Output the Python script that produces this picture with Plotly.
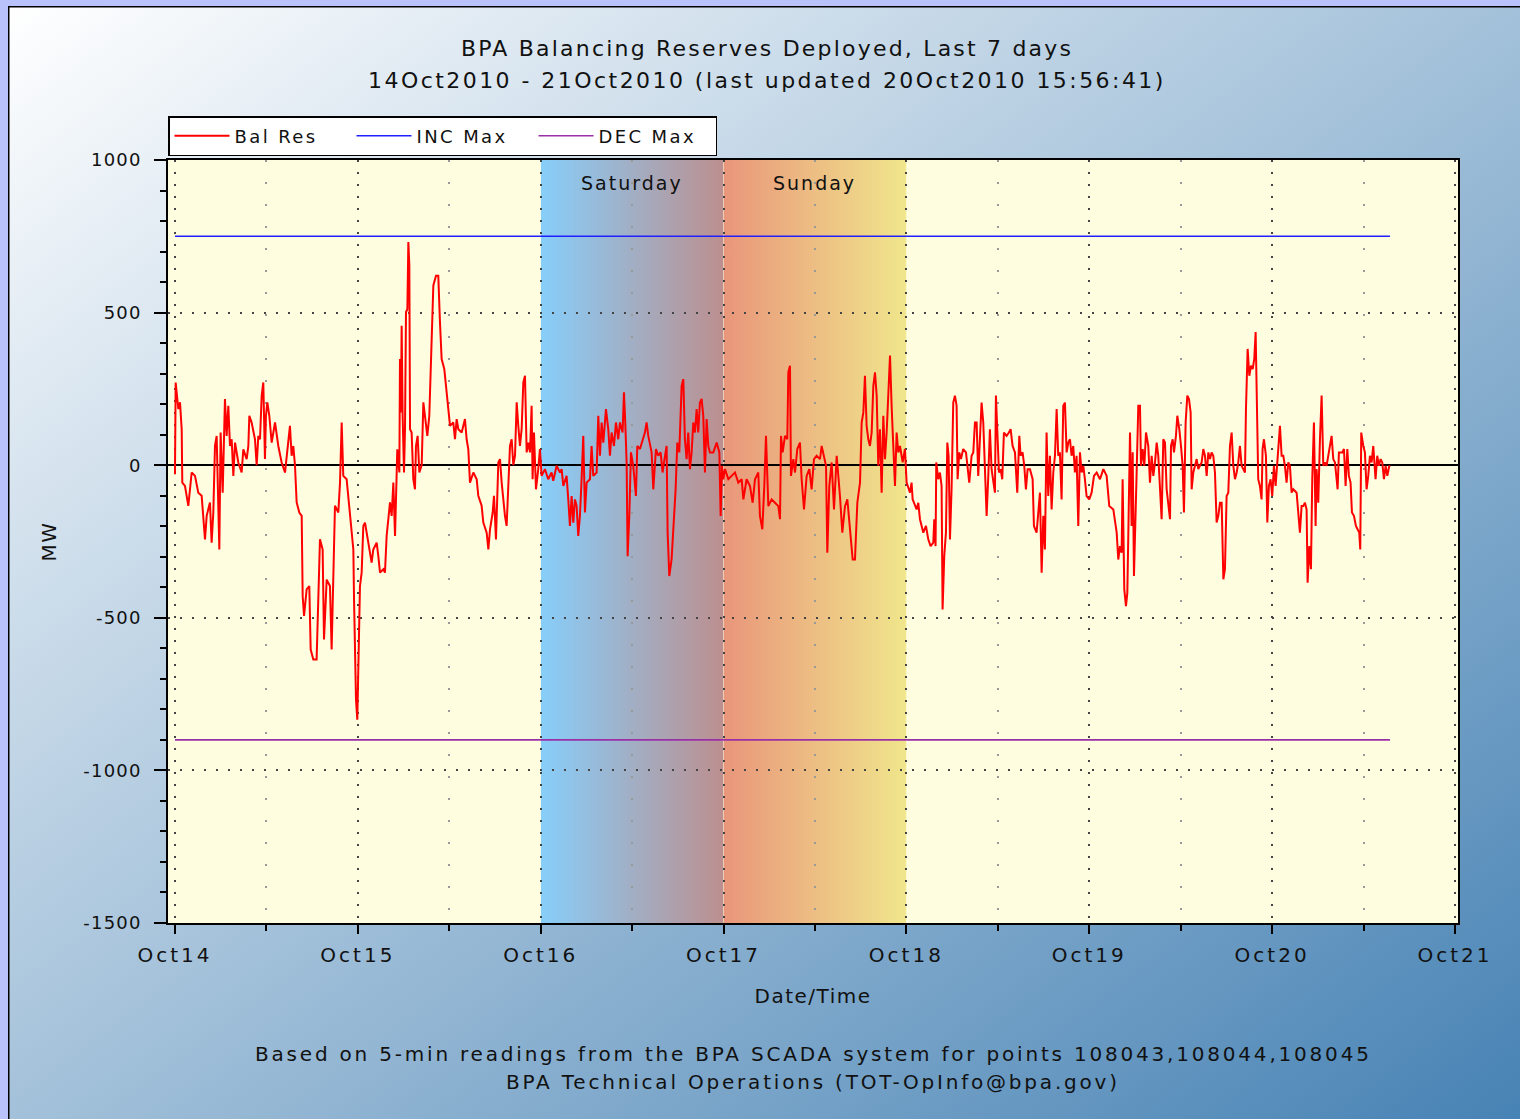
import base64
import pandas as pd
import plotly.graph_objects as go

# ---------------- data (hours since 14Oct2010 00:00, MW) ----------------
t_seg1 = [0.00, 0.05, 0.09, 0.44, 0.66, 0.88, 0.96, 1.31, 1.75, 2.19, 2.63, 3.06, 3.50, 3.94, 4.16, 4.59, 4.81, 5.03, 5.25, 5.47,
          5.82, 5.99, 6.26, 6.56, 6.78, 7.00, 7.22, 7.44, 7.66, 7.88, 8.31, 8.75, 8.97, 9.41, 9.63, 9.76, 10.06, 10.50, 10.72, 10.94,
          11.16, 11.38, 11.59, 11.81, 11.94, 12.12, 12.38, 12.69, 13.13, 13.56, 14.00, 14.44, 14.88, 15.09, 15.31, 15.53, 15.75, 15.97, 16.32, 16.63,
          16.76, 16.94, 17.28, 17.63, 17.81, 18.16, 18.59, 18.81, 19.03, 19.38, 19.56, 19.91, 20.34, 20.56, 20.78, 21.00, 21.44, 21.66, 21.88, 22.09,
          22.53]
mw_seg1 = [-30, 217, 271, 184, 206, 118, -57, -68, -133, -24, -35, -90, -100, -243, -166, -122, -254, -155, 63, 96,
           -276, 107, -90, 217, 96, 195, 63, 85, -35, 74, 9, -24, 52, 20, 63, 162, 140, 85, 0, 96,
           85, 228, 271, 20, 162, 206, 162, 74, 140, 63, 9, -24, 96, 129, 31, 63, 0, -122, -155, -166,
           -429, -494, -407, -396, -604, -637, -637, -385, -243, -276, -571, -375, -396, -604, -309, -133, -155, -57, 140, -35,
           -46]

t_seg2 = [22.97, 23.19, 23.41, 23.50, 23.76, 23.93, 24.06, 24.28, 24.50, 24.72, 24.94, 25.16, 25.38, 25.81, 26.03, 26.47, 26.69, 26.91, 27.35, 27.56,
          27.78, 28.00, 28.22, 28.44, 28.66, 28.88, 29.01, 29.18, 29.45, 29.53, 29.66, 29.75, 29.88, 30.06, 30.19, 30.32, 30.50, 30.63, 30.76, 30.85,
          31.06, 31.28, 31.50, 31.63, 31.85, 32.07, 32.38, 32.60, 32.81, 33.12, 33.38, 33.69, 33.91, 34.26, 34.56, 34.78, 35.00, 35.35, 35.66, 35.88,
          36.10, 36.53, 36.75, 36.97, 37.19, 37.63, 38.06, 38.28, 38.50, 38.72, 39.16, 39.60, 39.81, 40.25, 40.47, 40.91, 41.13, 41.35, 41.70, 41.87,
          42.13, 42.44, 42.66, 42.88, 43.10, 43.31, 43.53, 43.75, 43.97, 44.19, 44.41, 44.63, 44.85, 45.06, 45.28, 45.50, 45.72, 45.94, 46.16, 46.38,
          46.60]
mw_seg2 = [-155, -221, -276, -440, -768, -834, -615, -396, -352, -199, -188, -221, -243, -319, -276, -254, -298, -352, -341, -352,
           -232, -166, -122, -166, -57, -232, -79, 52, -24, 348, 173, 457, 162, -24, 118, 501, 512, 731, 654, 118,
           107, -46, -79, 63, 96, -24, 0, 206, 162, 96, 162, 435, 589, 621, 621, 468, 348, 315, 239, 184,
           129, 140, 85, 151, 118, 107, 151, 85, 52, -57, -24, -46, -100, -133, -188, -221, -276, -210, -155, -100,
           -243, 9, 20, -57, -122, -166, -199, -90, 63, 85, 0, 31, 206, 129, 63, 118, 271, 293, 42, 74,
           42]

t_seg3 = [46.81, 46.94, 47.12, 47.25, 47.38, 47.68, 47.90, 48.12, 48.56, 48.99, 49.43, 49.65, 50.09, 50.53, 50.75, 50.97, 51.40, 51.62, 51.84, 52.06,
          52.28, 52.50, 52.72, 52.93, 53.15, 53.37, 53.59, 53.81, 54.03, 54.47, 54.68, 54.90, 55.34, 55.56, 55.78, 56.00, 56.22, 56.57, 56.87, 57.09,
          57.31, 57.62, 57.88, 58.18, 58.40, 58.75, 58.93, 59.10, 59.28, 59.41, 59.63, 59.85, 60.15, 60.50, 60.68, 61.03, 61.38, 61.68, 61.90, 62.12,
          62.56, 62.78, 63.13, 63.43, 63.74, 64.00, 64.18, 64.53, 64.66, 64.88, 65.18, 65.49, 65.71, 65.93, 66.19, 66.50, 66.72, 66.93, 67.15, 67.37,
          67.59, 67.81, 68.03, 68.25, 68.47, 68.68, 68.90, 69.12, 69.34, 69.56, 69.78, 70.00, 70.22]
mw_seg3 = [195, -46, 107, -24, -79, -13, 53, -35, -13, -46, -24, -51, -2, -24, -13, -68, -35, -112, -199, -101,
           -188, -112, -134, -232, -166, -46, 96, -155, -57, -46, 63, -35, -24, 162, 31, 140, 74, 184, 118, 31,
           107, 63, 140, 85, 140, 107, 239, 140, 9, -298, -166, 42, -2, -101, 63, 53, 85, 107, 140, 96,
           42, -79, 53, 31, 42, -24, 9, 63, -221, -363, -309, -177, -79, 74, 42, 260, 282, 85, 20, 107,
           -13, 42, 140, 107, 184, 107, 205, 217, 162, -24, 151, 63, 42]

t_seg4 = [70.66, 71.10, 71.45, 71.62, 71.80, 71.97, 72.19, 72.63, 73.06, 73.50, 73.94, 74.38, 74.60, 75.03, 75.47, 75.82, 76.13, 76.56, 76.78, 77.09,
          77.35, 77.57, 77.88, 78.31, 78.75, 79.19, 79.41, 79.54, 79.76, 80.06, 80.37, 80.50, 80.72, 80.85, 81.16, 81.38, 81.68, 82.03, 82.25, 82.56,
          82.91, 83.26, 83.56, 83.87, 84.22, 84.66, 84.88, 85.18, 85.45, 85.62, 85.88, 86.19, 86.50, 86.85, 87.06, 87.28, 87.59, 87.94, 88.25, 88.60,
          88.95, 89.25, 89.56, 89.91, 90.13, 90.35, 90.56, 90.78, 91.00, 91.22, 91.44, 91.66, 91.88, 92.10, 92.31, 92.53, 92.75, 92.97, 93.19, 93.41,
          93.63, 93.85, 94.06, 94.28, 94.50, 94.72, 94.94, 95.16, 95.51, 95.81, 96.03]
mw_seg4 = [42, 74, 42, -166, -2, -46, -13, -46, -35, -24, -57, -46, -112, -46, -68, -123, -46, -24, -166, -210,
           -68, 96, -134, -112, -123, -134, -177, 96, 42, 96, 85, 304, 326, -35, 20, -24, 53, 74, -46, -145,
           -35, -13, -79, 20, 31, 20, 63, 31, -2, -287, -68, 9, -145, 31, -24, -101, -221, -134, -112, -199,
           -309, -309, -123, -57, 140, 173, 293, 129, 85, 63, 107, 260, 304, 228, -2, 118, -90, 162, 20, 107,
           239, 359, 195, 63, -68, 107, 42, 63, 9, 53, -57]

t_seg5 = [96.47, 96.68, 96.82, 97.12, 97.34, 97.56, 97.78, 98.00, 98.22, 98.57, 98.87, 99.18, 99.53, 99.66, 99.83, 99.92, 100.18, 100.40, 100.62, 100.75,
          100.97, 101.19, 101.37, 101.54, 101.72, 101.93, 102.15, 102.37, 102.59, 102.72, 102.94, 103.16, 103.46, 103.82, 104.03, 104.25, 104.56, 104.78, 105.00, 105.22,
          105.43, 105.65, 105.87, 106.09, 106.31, 106.53, 106.75, 106.96, 107.18, 107.40, 107.62, 107.75, 107.93, 108.15, 108.37, 108.58, 108.80, 109.15, 109.46, 109.68,
          109.94, 110.25, 110.55, 110.82, 110.99, 111.25, 111.47, 111.69, 111.91, 112.22, 112.57, 112.74, 113.09, 113.31, 113.53, 113.75, 113.97, 114.18, 114.40, 114.62,
          114.84, 115.06, 115.28, 115.50, 115.72, 115.93, 116.15, 116.37, 116.59, 116.81, 117.03, 117.25, 117.47, 117.68, 117.90, 118.12, 118.34, 118.56, 118.78, 119.00,
          119.22, 119.43, 119.65, 120.00]
mw_seg5 = [-90, -57, -112, -134, -145, -123, -177, -199, -221, -199, -243, -265, -254, -177, -265, 9, -46, -24, -68, -473,
           -298, -221, 74, 31, -243, -79, 205, 228, 195, -46, 42, 20, 53, 42, -2, -57, 31, 42, 140, 140,
           -35, 107, 205, 140, -2, -166, -35, 118, -13, -46, -90, 228, 107, -24, -13, -46, 107, 96, 107, 118,
           63, 42, -90, 96, 31, 42, -2, -79, -13, -13, -46, -199, -221, -166, -90, -352, -166, -276, 107, -101,
           31, -145, -24, 31, 184, 31, 42, -112, 195, 205, 42, 74, 85, 31, 63, -24, 31, -199, 42, -24,
           -2, -46, -101, -112]

t_seg6 = [120.31, 120.62, 120.97, 121.41, 121.85, 122.28, 122.63, 123.16, 123.60, 123.81, 124.03, 124.25, 124.38, 124.60, 124.82, 125.00, 125.13, 125.35, 125.56, 125.70,
          125.87, 126.09, 126.22, 126.44, 126.66, 126.79, 127.01, 127.23, 127.45, 127.75, 127.97, 128.19, 128.41, 128.63, 128.85, 129.06, 129.28, 129.50, 129.72, 129.94,
          130.16, 130.38, 130.60, 130.73, 130.95, 131.12, 131.38, 131.56, 131.82, 132.04, 132.26, 132.43, 132.65, 132.87, 133.09, 133.31, 133.44, 133.66, 133.88, 134.10,
          134.31, 134.53, 134.75, 134.97, 135.19, 135.41, 135.63, 135.85, 136.06, 136.28, 136.50, 136.72, 136.94, 137.16, 137.38, 137.60, 137.81, 138.03, 138.25, 138.47,
          138.69, 138.91, 139.13, 139.35, 139.56, 139.78, 140.00, 140.22, 140.44, 140.57, 140.79, 141.01, 141.23, 141.45, 141.66, 141.84, 141.97]
mw_seg6 = [-90, -35, -24, -46, -13, -35, -134, -145, -221, -309, -265, -287, -46, -407, -462, -418, -232, 107, -199, 42,
           -363, -101, -24, 195, 195, -2, 53, -2, 107, 63, -57, 31, -35, 9, 74, 31, -79, -177, 85, 74,
           -79, -134, -177, 63, 85, 42, 96, 162, 118, 63, -2, -155, 140, 228, 217, 173, -79, -24, -2, 20,
           -13, -2, 9, 53, 31, -35, 42, 20, 42, 31, -24, -188, -166, -123, -123, -374, -341, -101, -90, 63,
           107, -2, -46, -24, 9, 63, -2, -13, -24, 184, 381, 293, 326, 315, 348, 436, 293]

t_seg7 = [142.18, 142.40, 142.62, 142.75, 142.93, 143.19, 143.37, 143.58, 143.80, 144.02, 144.24, 144.46, 144.68, 144.85, 145.03, 145.25, 145.47, 145.68, 145.90, 146.12,
          146.34, 146.56, 146.78, 147.22, 147.65, 147.87, 148.09, 148.31, 148.53, 148.66, 148.88, 149.10, 149.27, 149.49, 149.71, 149.84, 150.06, 150.28, 150.50, 150.72,
          150.93, 151.15, 151.37, 151.59, 151.81, 152.03, 152.25, 152.47, 152.60, 152.77, 152.99, 153.21, 153.43, 153.65, 153.87, 154.08, 154.30, 154.48, 154.74, 155.00,
          155.22, 155.44, 155.57, 155.70, 155.97, 156.18, 156.40, 156.62, 156.84, 157.06, 157.28, 157.58, 157.80, 158.02, 158.24, 158.46, 158.68, 158.90, 159.12, 159.38,
          159.47]
mw_seg7 = [-46, -68, -112, 53, 85, 31, -188, -68, -46, -101, -2, -68, 20, 96, 129, 31, 31, -2, -57, 9,
           -2, -90, -79, -90, -221, -134, -134, -123, -145, -385, -265, -341, -46, 140, -199, -13, -123, 85, 228, -2,
           9, -2, 31, 74, 96, 20, 9, -46, -79, 42, 42, 42, 53, -68, 53, -35, -57, -155, -166, -199,
           -210, -221, -276, 107, 63, 42, -79, -35, 31, 9, 63, -46, 31, -2, 20, 9, -46, -2, -35, -2,
           -5]

inc_max = 750
dec_max = -900

x_tick_labels = ["Oct14", "Oct15", "Oct16", "Oct17", "Oct18", "Oct19", "Oct20", "Oct21"]
y_tick_vals = [-1500, -1000, -500, 0, 500, 1000]
y_tick_labels = ["-1500", "-1000", "-500", "0", "500", "1000"]
weekend_days = ["Saturday", "Sunday"]
title_lines = ["BPA Balancing Reserves Deployed, Last 7 days",
               "14Oct2010 - 21Oct2010 (last updated 20Oct2010 15:56:41)"]
footer_lines = ["Based on 5-min readings from the BPA SCADA system for points 108043,108044,108045",
                "BPA Technical Operations (TOT-OpInfo@bpa.gov)"]

# ---------------- build series ----------------
start = pd.Timestamp("2010-10-14 00:00")
hours = t_seg1 + t_seg2 + t_seg3 + t_seg4 + t_seg5 + t_seg6 + t_seg7
mw = mw_seg1 + mw_seg2 + mw_seg3 + mw_seg4 + mw_seg5 + mw_seg6 + mw_seg7
assert len(hours) == len(mw)
times = [start + pd.Timedelta(hours=h) for h in hours]
line_ends = [times[0], times[-1]]

FONT = "DejaVu Sans"
TXT = "#111111"


def spaced(txt, ls=2.0):
    return f'<span style="letter-spacing:{ls}px">{txt}</span>'


def svg_uri(svg):
    return "data:image/svg+xml;base64," + base64.b64encode(svg.encode()).decode()


W, H = 1520, 1119
ML, MR, MT, MB = 168, 62, 160, 196
PW, PH = W - ML - MR, H - MT - MB

page_svg = f'''<svg xmlns="http://www.w3.org/2000/svg" width="{W}" height="{H}" viewBox="0 0 {W} {H}" preserveAspectRatio="none">
<defs><linearGradient id="g" x1="0" y1="0" x2="1" y2="1">
<stop offset="0" stop-color="#ffffff"/><stop offset="1" stop-color="#4682b4"/></linearGradient></defs>
<rect width="{W}" height="{H}" fill="#b9c2fa"/>
<rect x="8.75" y="6.75" width="{W}" height="{H}" fill="url(#g)" stroke="#000" stroke-width="1.5"/>
</svg>'''


def hgrad(c0, c1):
    return f'''<svg xmlns="http://www.w3.org/2000/svg" width="100" height="100" viewBox="0 0 100 100" preserveAspectRatio="none">
<defs><linearGradient id="h" x1="0" y1="0" x2="1" y2="0">
<stop offset="0" stop-color="{c0}"/><stop offset="1" stop-color="{c1}"/></linearGradient></defs>
<rect width="100" height="100" fill="url(#h)"/></svg>'''


sat_start = pd.Timestamp("2010-10-16")
sun_start = pd.Timestamp("2010-10-17")
day_ms = 86400000

fig = go.Figure()
fig.add_trace(go.Scatter(x=times, y=mw, mode="lines", name=spaced("Bal Res", 2.4),
                         line=dict(color="#ff0000", width=2)))
fig.add_trace(go.Scatter(x=line_ends, y=[inc_max, inc_max], mode="lines", name=spaced("INC Max", 2.4),
                         line=dict(color="#2020ff", width=1.6)))
fig.add_trace(go.Scatter(x=line_ends, y=[dec_max, dec_max], mode="lines", name=spaced("DEC Max", 2.4),
                         line=dict(color="#9a30a8", width=1.6)))

tickvals_x = [start + pd.Timedelta(days=i) for i in range(len(x_tick_labels))]
minor_x = [start + pd.Timedelta(hours=12 + 24 * i) for i in range(7)]

fig.update_layout(
    width=W, height=H,
    margin=dict(l=ML, r=MR, t=MT, b=MB),
    paper_bgcolor="#b9c2fa",
    plot_bgcolor="rgba(0,0,0,0)",
    font=dict(family=FONT, color=TXT, size=19),
    showlegend=True,
    legend=dict(orientation="h", x=0, xanchor="left", y=1 + 44 / PH, yanchor="top",
                bgcolor="#ffffff", bordercolor="#000000", borderwidth=1.5,
                font=dict(family=FONT, size=18, color=TXT),
                entrywidth=112, itemwidth=55),
    xaxis=dict(
        type="date",
        range=[start - pd.Timedelta(minutes=55), start + pd.Timedelta(days=7, minutes=24)],
        tickvals=tickvals_x, ticktext=[spaced(s, 3) for s in x_tick_labels],
        ticks="outside", ticklen=9, tickwidth=1.5, tickcolor="#000",
        ticklabelstandoff=4,
        tickfont=dict(family=FONT, size=20, color=TXT),
        showline=True, linecolor="#000", linewidth=1.5, mirror=True,
        showgrid=True, gridcolor="#444444", gridwidth=1.6, griddash="2px,10px",
        zeroline=False,
        minor=dict(tickvals=minor_x, ticks="outside", ticklen=6, tickwidth=1.5, tickcolor="#000",
                   showgrid=True, gridcolor="#999999", gridwidth=1.6, griddash="2px,20px"),
        title=dict(text=spaced("Date/Time", 1.5), standoff=23, font=dict(family=FONT, size=20, color=TXT)),
    ),
    yaxis=dict(
        range=[-1500, 1000],
        tickvals=y_tick_vals, ticktext=[spaced(s, 1.2) for s in y_tick_labels],
        ticks="outside", ticklen=12, tickwidth=1.5, tickcolor="#000",
        ticklabelstandoff=9,
        tickfont=dict(family=FONT, size=18, color=TXT),
        showline=True, linecolor="#000", linewidth=1.5, mirror=True,
        showgrid=True, gridcolor="#444444", gridwidth=1.6, griddash="2px,10px",
        zeroline=True, zerolinecolor="#000", zerolinewidth=1.6,
        minor=dict(dtick=100, ticks="outside", ticklen=6, tickwidth=1.5, tickcolor="#000", showgrid=False),
        title=dict(text=spaced("MW", 1.5), standoff=21, font=dict(family=FONT, size=20, color=TXT)),
    ),
    images=[
        dict(source=svg_uri(page_svg), xref="paper", yref="paper",
             x=-ML / PW, y=1 + MT / PH, sizex=W / PW, sizey=H / PH,
             xanchor="left", yanchor="top", sizing="stretch", layer="below"),
        dict(source=svg_uri(hgrad("#87cefa", "#bc8f8f")), xref="x", yref="y",
             x=sat_start, y=1000, sizex=day_ms, sizey=2500,
             xanchor="left", yanchor="top", sizing="stretch", layer="below"),
        dict(source=svg_uri(hgrad("#e9967a", "#f0e68c")), xref="x", yref="y",
             x=sun_start, y=1000, sizex=day_ms, sizey=2500,
             xanchor="left", yanchor="top", sizing="stretch", layer="below"),
    ],
    shapes=[
        dict(type="rect", xref="x domain", yref="y domain", x0=0, x1=1, y0=0, y1=1,
             fillcolor="#fffde0", line=dict(width=0), layer="below"),
    ],
)

# title lines (centres at page y 48 and 80)
for lbl, yc, ls in zip(title_lines, [48, 80], [2.2, 2.45]):
    fig.add_annotation(x=(767 - ML) / PW, y=1 + (MT - yc) / PH, xref="paper", yref="paper",
                       xanchor="center", yanchor="middle", text=spaced(lbl, ls), showarrow=False,
                       font=dict(family=FONT, size=22, color=TXT))

for i, lbl in enumerate(weekend_days):
    fig.add_annotation(x=sat_start + pd.Timedelta(days=i, hours=12), y=925, xref="x", yref="y",
                       text=spaced(lbl, 2), showarrow=False,
                       font=dict(family=FONT, size=19, color=TXT))

for lbl, yc in zip(footer_lines, [1054, 1082]):
    fig.add_annotation(x=0.5, y=-(yc - (H - MB)) / PH, xref="paper", yref="paper", yanchor="middle",
                       text=spaced(lbl, 2.8), showarrow=False,
                       font=dict(family=FONT, size=20, color=TXT))

# remove the default 8px page margin so the 1520x1119 figure fills the window exactly
fig.write_html("out.html",
               config={"displayModeBar": False},
               post_script="document.body.style.margin='0px';document.body.style.overflow='hidden';"
                           "document.body.style.background='#b9c2fa';")
